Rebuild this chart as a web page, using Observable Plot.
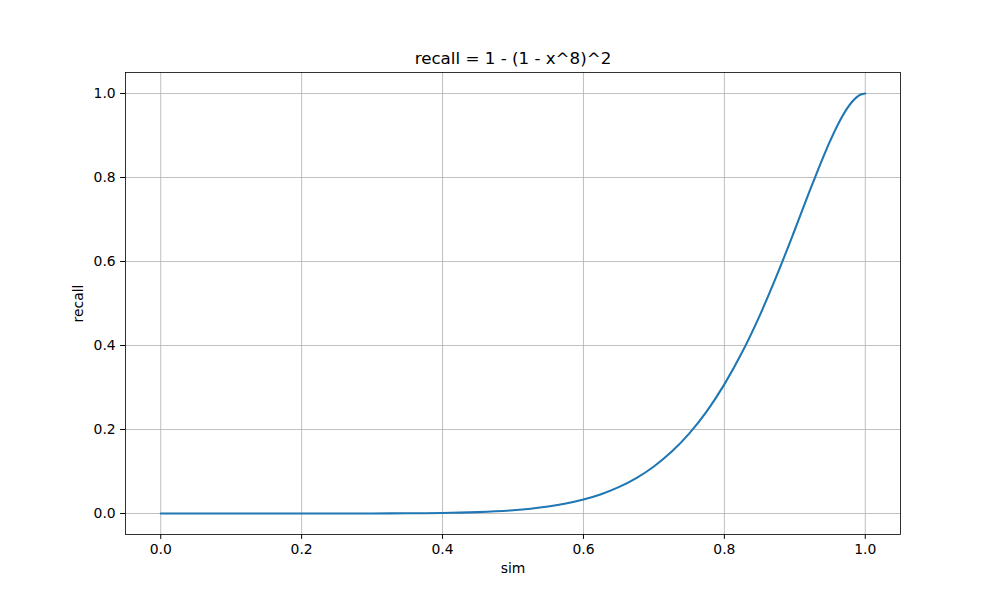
<!DOCTYPE html>
<html><head><meta charset="utf-8">
<script src="https://cdn.jsdelivr.net/npm/d3@7"></script>
<script src="https://cdn.jsdelivr.net/npm/@observablehq/plot@0.6"></script>
<style>body{margin:0;background:#fff;} svg{font-family:"DejaVu Sans";}</style>
</head><body><div id="chart"></div>
<script>
const title = "recall = 1 - (1 - x^8)^2";
const xLabel = "sim";
const yLabel = "recall";
const sim = [0, 0.05, 0.1, 0.15, 0.2, 0.25, 0.3, 0.325, 0.35, 0.375, 0.4, 0.425, 0.45, 0.475, 0.5, 0.525, 0.55, 0.575, 0.6, 0.625, 0.65, 0.675, 0.7, 0.725, 0.75, 0.775, 0.8, 0.825, 0.85, 0.875, 0.9, 0.925, 0.95, 0.9625, 0.975, 0.9875, 0.99375, 1.0];
const recall = [0, 0, 0, 0, 0.000005, 0.00003, 0.00013, 0.00025, 0.00045, 0.00078, 0.00131, 0.00213, 0.00336, 0.00518, 0.0078, 0.0115, 0.0167, 0.0238, 0.0333, 0.0460, 0.0627, 0.0843, 0.1120, 0.1468, 0.1902, 0.2433, 0.3074, 0.3831, 0.4707, 0.5692, 0.6756, 0.7847, 0.8867, 0.9306, 0.9664, 0.9908, 0.9976, 1.0];
const xTicks = [0, 0.2, 0.4, 0.6, 0.8, 1.0];
const yTicks = [0, 0.2, 0.4, 0.6, 0.8, 1.0];

const data = sim.map((s, i) => ({sim: s, recall: recall[i]}));
const chart = Plot.plot({
  width: 1000, height: 600,
  marginLeft: 125, marginRight: 100, marginTop: 72, marginBottom: 66,
  style: {fontFamily: "DejaVu Sans", fontSize: "13.9px", background: "#fff", color: "#000"},
  x: {domain: [-0.05, 1.05]},
  y: {domain: [-0.05, 1.05]},
  marks: [
    Plot.gridX(xTicks, {stroke: "#b0b0b0", strokeOpacity: 1, strokeWidth: 0.8}),
    Plot.gridY(yTicks, {stroke: "#b0b0b0", strokeOpacity: 1, strokeWidth: 0.8}),
    Plot.line(data, {x: "sim", y: "recall", stroke: "#1f77b4", strokeWidth: 2.08, curve: "monotone-x"}),
    Plot.frame({stroke: "#000", strokeWidth: 0.8}),
    Plot.axisX(xTicks, {tickFormat: d3.format(".1f"), tickSize: 4.9, tickPadding: 4.9, fontSize: 13.9, label: xLabel, labelAnchor: "center", labelArrow: "none", labelOffset: 38}),
    Plot.axisY(yTicks, {tickFormat: d3.format(".1f"), tickSize: 4.9, tickPadding: 4.9, fontSize: 13.9, label: yLabel, labelAnchor: "center", labelArrow: "none", labelOffset: 52}),
    Plot.text([title], {frameAnchor: "top", dy: -20, fontSize: 16.7, text: d => d, fill: "#000"})
  ]
});
document.getElementById("chart").append(chart);
</script>
</body></html>
